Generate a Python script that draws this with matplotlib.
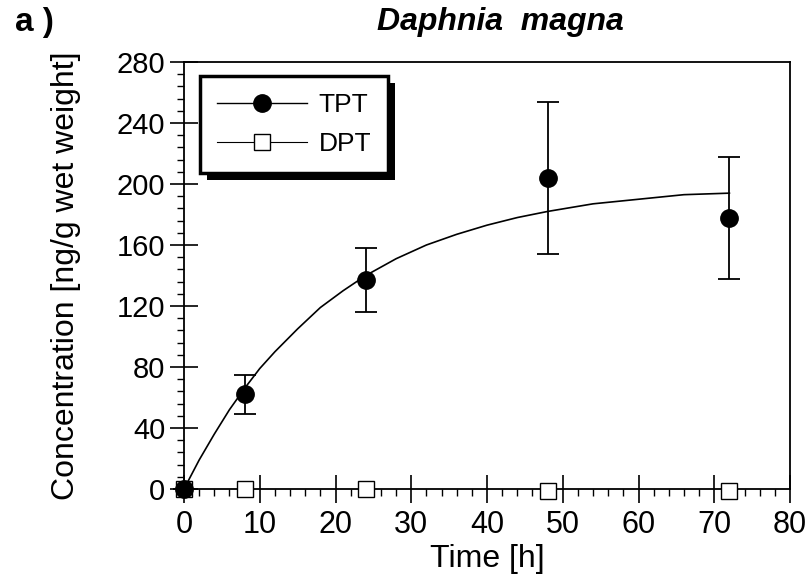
import matplotlib.pyplot as plt
from matplotlib.ticker import MultipleLocator
from matplotlib.lines import Line2D
from matplotlib.patches import Rectangle
from matplotlib.transforms import IdentityTransform

plt.rcParams['font.family'] = ['Liberation Sans', 'DejaVu Sans']

# measured points
time_h = [0, 8, 24, 48, 72]
tpt = [0, 62, 137, 204, 178]
tpt_err = [0, 13, 21, 50, 40]
dpt = [0, 0, 0, -1, -1]

# fitted uptake curve
fit_t = [0, 2, 4, 6, 8, 10, 12, 15, 18, 21, 24, 28, 32, 36, 40, 44, 48, 54, 60, 66, 72]
fit_c = [0, 19, 36, 52, 66, 79, 90, 105, 119, 130, 140, 151, 160, 167, 173, 178, 182, 187, 190, 193, 194]

fig = plt.figure(figsize=(8.12, 5.79), dpi=100)
ax = fig.add_axes([184/812, 1-489/579, (790-184)/812, (489-62)/579])

ax.plot(fit_t, fit_c, color='k', lw=1.2, zorder=2)
ax.plot(time_h, dpt, ls='none', marker='s', ms=11.5, mfc='white', mec='k', mew=1.0,
        clip_on=False, zorder=3)
ax.errorbar(time_h, tpt, yerr=tpt_err, fmt='o', color='k', ms=12.5, elinewidth=1.3,
            capsize=8, capthick=1.3, clip_on=False, zorder=4)

ax.set_xlim(0, 80)
ax.set_ylim(0, 280)
ax.xaxis.set_major_locator(MultipleLocator(10))
ax.xaxis.set_minor_locator(MultipleLocator(2))
ax.yaxis.set_major_locator(MultipleLocator(40))
ax.yaxis.set_minor_locator(MultipleLocator(8))
ax.tick_params(which='major', direction='inout', length=20, width=1.2, labelsize=21)
ax.tick_params(which='minor', direction='out', length=5, width=1.0)
ax.tick_params(axis='x', which='major', labelsize=22, pad=5)
for s in ax.spines.values():
    s.set_linewidth(1.3)

ax.set_xlabel('Time [h]', fontsize=23, labelpad=3)
ax.set_ylabel('Concentration [ng/g wet weight]', fontsize=23, labelpad=26)

fig.text(15/812, 1-22/579, 'a )', fontsize=24, fontweight='bold', va='center')
fig.text(500/812, 1-22/579, 'Daphnia  magna', fontsize=23, fontweight='bold', style='italic',
         ha='center', va='center')

handles = [
    Line2D([], [], color='k', lw=1, marker='o', ms=12.5),
    Line2D([], [], color='k', lw=0.8, marker='s', ms=11.5, mfc='white', mew=1.0),
]
leg = ax.legend(handles, ['TPT', 'DPT'], loc='upper left', bbox_to_anchor=(0.026, 0.967),
                borderaxespad=0, fancybox=False, framealpha=1, edgecolor='k',
                fontsize=19, handlelength=3.4, handletextpad=0.45, labelspacing=0.55,
                borderpad=0.65)
leg.get_frame().set_linewidth(2.5)

fig.canvas.draw()
bb = leg.get_frame().get_window_extent()
ax.add_artist(Rectangle((bb.x0 + 7, bb.y0 - 7), bb.width, bb.height, transform=IdentityTransform(),
                        facecolor='k', edgecolor='none', zorder=4.9))

fig.savefig('out.png', dpi=100)
